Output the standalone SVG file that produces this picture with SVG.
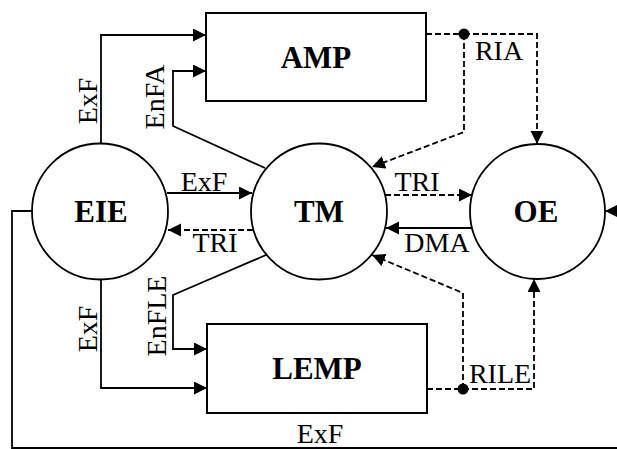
<svg xmlns="http://www.w3.org/2000/svg" width="617" height="449" viewBox="0 0 617 449">
<style>
.node{fill:#fff;stroke:#000;stroke-width:1.8}
.box{fill:#fff;stroke:#000;stroke-width:2}
.title{font-family:"Liberation Serif","Times New Roman",serif;font-weight:bold;font-size:31px;text-anchor:middle;fill:#000}
.lbl{font-family:"Liberation Serif","Times New Roman",serif;font-size:28px;text-anchor:middle;fill:#000}
.solid{fill:none;stroke:#000;stroke-width:1.8}
.dash{fill:none;stroke:#000;stroke-width:1.8;stroke-dasharray:6,3}
</style>
<defs>
<marker id="arr" markerUnits="userSpaceOnUse" markerWidth="15" markerHeight="15" refX="13" refY="6.5" orient="auto">
<path d="M0,0 L13,6.5 L0,13 z" fill="#000"/>
</marker>
</defs>
<g id="connectors">
<path class="solid" d="M101,143 V35 H206" marker-end="url(#arr)"/>
<path class="solid" d="M265,168 L173,126 V71 H206" marker-end="url(#arr)"/>
<path class="solid" d="M167,193 H252" marker-end="url(#arr)"/>
<path class="dash" d="M253,230 H168" marker-end="url(#arr)"/>
<path class="dash" d="M385,195 H472" marker-end="url(#arr)"/>
<path class="solid" d="M472,228 H386" marker-end="url(#arr)"/>
<path class="dash" d="M426,34 H464"/>
<path class="dash" d="M464,34 H537 V144" marker-end="url(#arr)"/>
<path class="dash" d="M464,34 V132 L372,167" marker-end="url(#arr)"/>
<circle cx="464" cy="34" r="5.5" fill="#000"/>
<path class="dash" d="M427,389 H463"/>
<path class="dash" d="M463,389 H534 V279" marker-end="url(#arr)"/>
<path class="dash" d="M463,389 V293 L372,255" marker-end="url(#arr)"/>
<circle cx="463" cy="389" r="5.5" fill="#000"/>
<path class="solid" d="M101,280 V388 H207" marker-end="url(#arr)"/>
<path class="solid" d="M266,255 L173,295 V349 H207" marker-end="url(#arr)"/>
<path class="solid" d="M33,211 H12 V448 H617"/>
<path class="solid" d="M617,211 H605" marker-end="url(#arr)"/>
<text class="lbl" transform="translate(97,101) rotate(-90)">ExF</text>
<text class="lbl" transform="translate(164,97) rotate(-90)">EnFA</text>
<text class="lbl" x="204" y="191">ExF</text>
<text class="lbl" x="215" y="252">TRI</text>
<text class="lbl" x="417" y="191">TRI</text>
<text class="lbl" x="437" y="252">DMA</text>
<text class="lbl" x="499" y="60">RIA</text>
<text class="lbl" x="500" y="383">RILE</text>
<text class="lbl" transform="translate(97,329) rotate(-90)">ExF</text>
<text class="lbl" transform="translate(166,316) rotate(-90)">EnFLE</text>
<text class="lbl" x="320" y="443">ExF</text>
</g>
<g id="AMP">
<rect class="box" x="206" y="13" width="220" height="88"/>
<text class="title" x="316" y="68">AMP</text>
</g>
<g id="LEMP">
<rect class="box" x="207" y="324" width="220" height="89"/>
<text class="title" x="317" y="379">LEMP</text>
</g>
<g id="EIE">
<circle class="node" cx="100" cy="211.5" r="68"/>
<text class="title" x="101" y="222">EIE</text>
</g>
<g id="TM">
<circle class="node" cx="319" cy="211.5" r="68"/>
<text class="title" x="319" y="222">TM</text>
</g>
<g id="OE">
<circle class="node" cx="537.5" cy="211.5" r="67.5"/>
<text class="title" x="536" y="222">OE</text>
</g>
</svg>
